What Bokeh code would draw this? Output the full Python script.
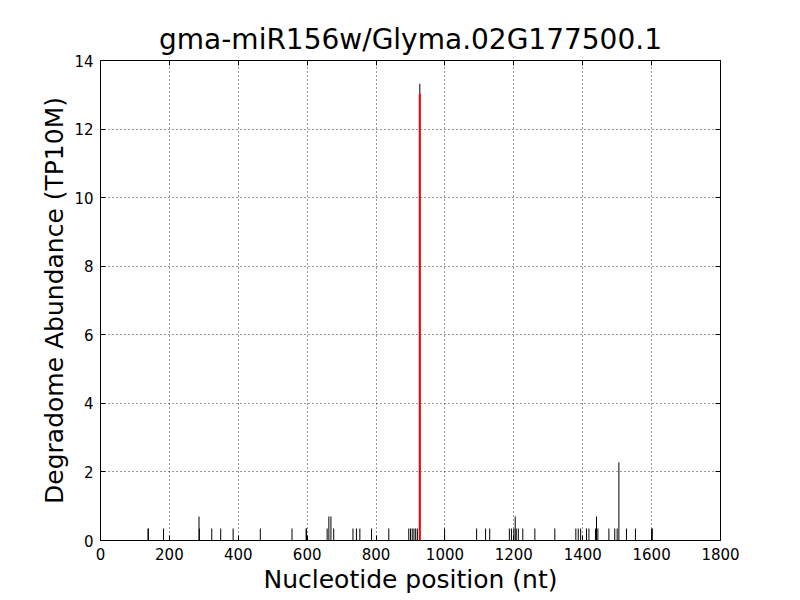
from bokeh.plotting import figure
from bokeh.models import LinearAxis, Range1d, FixedTicker
from bokeh.embed import file_html
from bokeh.resources import INLINE

# Data
positions = [138, 139, 183, 286, 287, 323, 349, 385, 464, 556, 597, 598, 658, 663, 669, 677,
             733, 743, 753, 787, 837, 895, 900, 905, 910, 915, 920, 927, 999, 1092, 1118,
             1130, 1187, 1193, 1200, 1204, 1207, 1213, 1226, 1261, 1319, 1380, 1387, 1394,
             1411, 1418, 1437, 1440, 1444, 1476, 1493, 1500, 1505, 1527, 1553, 1600, 1602]
abundance = [0.35, 0.35, 0.35, 0.70, 0.35, 0.35, 0.35, 0.35, 0.35, 0.35, 0.35, 0.35, 0.35, 0.70, 0.70, 0.35,
             0.35, 0.35, 0.35, 0.35, 0.35, 0.35, 0.35, 0.35, 0.35, 0.35, 0.35, 13.32, 0.35, 0.35, 0.35,
             0.35, 0.35, 0.35, 0.35, 0.70, 0.35, 0.35, 0.35, 0.35, 0.35, 0.35, 0.35, 0.35,
             0.35, 0.35, 0.35, 0.70, 0.35, 0.35, 0.35, 0.35, 2.28, 0.35, 0.35, 0.35, 0.35]
site_position = [927]
site_abundance = [13.03]
x_ticks = [0, 200, 400, 600, 800, 1000, 1200, 1400, 1600, 1800]
y_ticks = [0, 2, 4, 6, 8, 10, 12, 14]

FONT = "DejaVu Sans"

p = figure(width=792, height=596, output_backend="svg", toolbar_location=None,
           x_range=Range1d(0, 1800), y_range=Range1d(0, 14),
           min_border_left=100, min_border_right=72, min_border_top=60, min_border_bottom=56,
           title="gma-miR156w/Glyma.02G177500.1")

p.title.text_font = FONT
p.title.text_font_size = "28px"
p.title.text_font_style = "normal"
p.title.align = "center"
p.title.text_color = "black"

p.segment(x0=positions, y0=[0] * len(positions), x1=positions, y1=abundance,
          line_color="black", line_width=1)
p.segment(x0=site_position, y0=[0], x1=site_position, y1=site_abundance,
          line_color="red", line_width=2)

p.outline_line_color = "black"
p.outline_line_width = 1
p.background_fill_color = "white"
p.border_fill_color = "white"

for g in (p.xgrid[0], p.ygrid[0]):
    g.grid_line_color = "black"
    g.grid_line_dash = "1 3"
    g.grid_line_width = 1
    g.grid_line_alpha = 0.8

p.xaxis.ticker = FixedTicker(ticks=x_ticks)
p.yaxis.ticker = FixedTicker(ticks=y_ticks)
p.xgrid.ticker = FixedTicker(ticks=x_ticks)
p.ygrid.ticker = FixedTicker(ticks=y_ticks)

p.xaxis.axis_label = "Nucleotide position (nt)"
p.yaxis.axis_label = "Degradome Abundance (TP10M)"

for ax in (p.xaxis[0], p.yaxis[0]):
    ax.axis_label_text_font = FONT
    ax.axis_label_text_font_size = "25px"
    ax.axis_label_text_font_style = "normal"
    ax.axis_label_text_color = "black"
    ax.major_label_text_font = FONT
    ax.major_label_text_font_size = "15px"
    ax.major_label_text_color = "black"
    ax.major_tick_in = 5
    ax.major_tick_out = 0
    ax.minor_tick_line_color = None
    ax.axis_line_color = None
    ax.major_tick_line_color = "black"
    ax.major_label_standoff = 7
p.xaxis.axis_label_standoff = 2
p.yaxis.axis_label_standoff = 2

top = LinearAxis(ticker=FixedTicker(ticks=x_ticks), major_label_text_alpha=0,
                 major_label_text_font_size="1px", major_tick_in=5, major_tick_out=0,
                 minor_tick_line_color=None, axis_line_color=None)
right = LinearAxis(ticker=FixedTicker(ticks=y_ticks), major_label_text_alpha=0,
                   major_label_text_font_size="1px", major_tick_in=5, major_tick_out=0,
                   minor_tick_line_color=None, axis_line_color=None)
p.add_layout(top, "above")
p.add_layout(right, "right")

open("out.html", "w").write(file_html(p, INLINE))
